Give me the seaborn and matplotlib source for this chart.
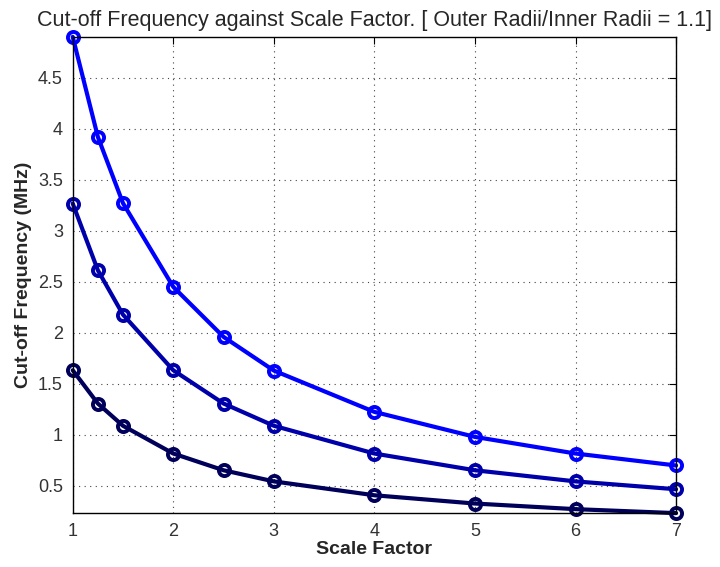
import matplotlib
matplotlib.use("Agg")
import matplotlib.pyplot as plt
import seaborn as sns
import pandas as pd

scale = [1, 1.25, 1.5, 2, 2.5, 3, 4, 5, 6, 7]
freq_high = [4.90, 3.92, 3.27, 2.45, 1.96, 1.63, 1.225, 0.98, 0.817, 0.70]
freq_mid = [3.267, 2.613, 2.178, 1.633, 1.307, 1.089, 0.817, 0.653, 0.544, 0.467]
freq_low = [1.633, 1.307, 1.089, 0.817, 0.653, 0.544, 0.408, 0.327, 0.272, 0.233]
series_names = ["low", "mid", "high"]
colors = ["#00005a", "#0000aa", "#0000ff"]

df = pd.concat([
    pd.DataFrame({"x": scale, "y": freq_low, "s": "low"}),
    pd.DataFrame({"x": scale, "y": freq_mid, "s": "mid"}),
    pd.DataFrame({"x": scale, "y": freq_high, "s": "high"}),
])

sns.set_style("white")
plt.rcParams["font.family"] = ["Liberation Sans", "DejaVu Sans"]

fig = plt.figure(figsize=(7.2, 5.67), dpi=100)
ax = fig.add_axes([0.101, 0.095, 0.838, 0.840])

sns.lineplot(data=df, x="x", y="y", hue="s", hue_order=series_names,
             palette=colors, linewidth=3, legend=False, ax=ax, sort=False)
for line in ax.get_lines():
    c = line.get_color()
    line.set_marker("o")
    line.set_markersize(8)
    line.set_markerfacecolor("none")
    line.set_markeredgecolor(c)
    line.set_markeredgewidth(2.8)
    line.set_clip_on(False)

ax.set_xlim(1, 7)
ax.set_ylim(0.233, 4.9)
ax.set_xticks([1, 2, 3, 4, 5, 6, 7])
ax.set_xticklabels(["1", "2", "3", "4", "5", "6", "7"])
ax.set_yticks([0.5, 1, 1.5, 2, 2.5, 3, 3.5, 4, 4.5])
ax.set_yticklabels(["0.5", "1", "1.5", "2", "2.5", "3", "3.5", "4", "4.5"])
ax.grid(True, linestyle=(0, (1, 4)), color="#444444", linewidth=0.8)
ax.tick_params(direction="in", length=5, top=True, right=True, labelsize=13,
               colors="black", pad=7)
for lbl in ax.get_xticklabels() + ax.get_yticklabels():
    lbl.set_color("#333333")
for sp in ax.spines.values():
    sp.set_visible(True)
    sp.set_color("black")
    sp.set_linewidth(1.0)

ax.set_xlabel("Scale Factor", fontsize=14, fontweight="bold", labelpad=1)
ax.set_ylabel("Cut-off Frequency (MHz)", fontsize=14, fontweight="bold", labelpad=4)
ax.set_title("Cut-off Frequency against Scale Factor. [ Outer Radii/Inner Radii = 1.1]",
             fontsize=15.5, pad=8)

fig.savefig("out.png", dpi=100)
